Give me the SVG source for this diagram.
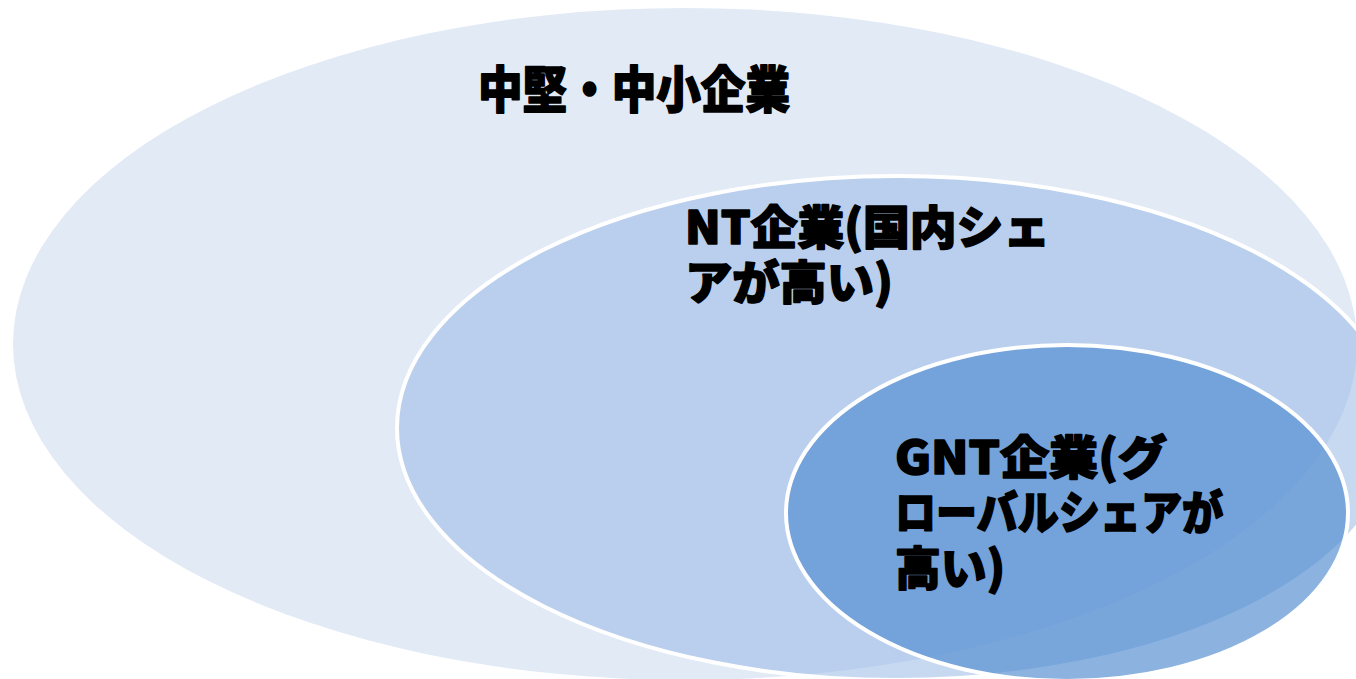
<svg xmlns="http://www.w3.org/2000/svg" width="1356" height="679" viewBox="0 0 1356 679">
  <style>
    .lbl { font-family: "Noto Sans CJK JP", "Noto Sans", sans-serif; font-weight: 900; fill: #000000; stroke: #000000; stroke-width: 1.6; stroke-linejoin: round; }
    .ring { stroke: #FFFFFF; stroke-width: 4; }
  </style>
  <rect x="0" y="0" width="1356" height="679" fill="#FFFFFF"/>
  <g id="outer">
    <ellipse cx="685" cy="344" rx="672" ry="336" fill="#E2EAF6"/>
    <text class="lbl" x="478" y="108" font-size="50" textLength="312" lengthAdjust="spacingAndGlyphs">中堅・中小企業</text>
  </g>
  <g id="nt">
    <ellipse class="ring" cx="897" cy="428" rx="500" ry="252" fill="#8FB4E3" fill-opacity="0.5"/>
    <text class="lbl" font-size="46"><tspan x="685" y="244" textLength="365" lengthAdjust="spacingAndGlyphs">NT企業(国内シェ</tspan><tspan x="685" y="299" textLength="208" lengthAdjust="spacingAndGlyphs">アが高い)</tspan></text>
  </g>
  <g id="gnt">
    <ellipse class="ring" cx="1067" cy="513" rx="281" ry="168" fill="#4F8BD0" fill-opacity="0.65"/>
    <text class="lbl" font-size="46"><tspan x="895" y="474" textLength="272" lengthAdjust="spacingAndGlyphs">GNT企業(グ</tspan><tspan x="895" y="529" textLength="328" lengthAdjust="spacingAndGlyphs">ローバルシェアが</tspan><tspan x="895" y="585" textLength="110" lengthAdjust="spacingAndGlyphs">高い)</tspan></text>
  </g>
</svg>
